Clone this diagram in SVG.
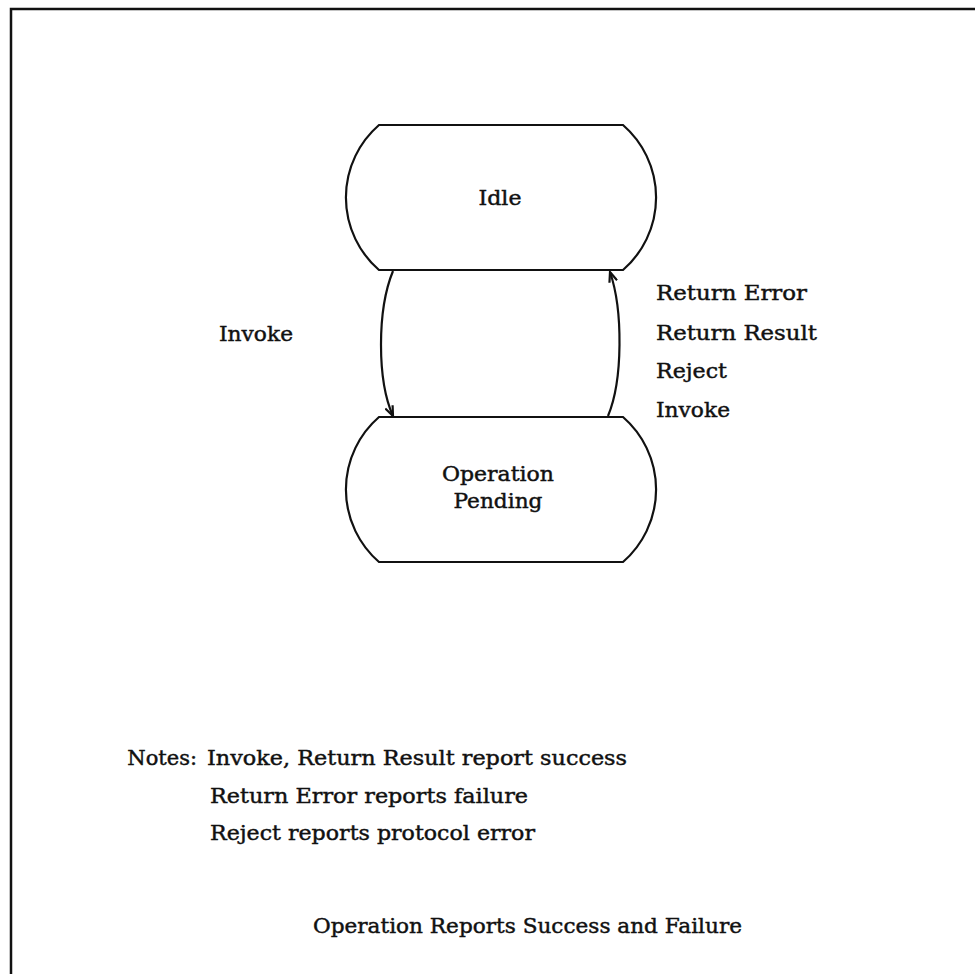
<svg xmlns="http://www.w3.org/2000/svg" width="975" height="974" viewBox="0 0 975 974">
<style>
  .node { fill: #fff; stroke: #111; stroke-width: 2.2; }
  .lbl { font-family: "DejaVu Serif", "Liberation Serif", serif; font-size: 21px; fill: #111; stroke: #111; stroke-width: 0.45; }
  .mid { text-anchor: middle; }
  .edge { fill: none; stroke: #111; stroke-width: 2.2; }
</style>
<defs>
  <marker id="arr" viewBox="0 0 12 10" refX="11" refY="5" markerWidth="12" markerHeight="10" markerUnits="userSpaceOnUse" orient="auto">
    <path d="M1,1 L11,5 L1,9" fill="none" stroke="#111" stroke-width="2.2"/>
  </marker>
</defs>
<rect width="975" height="974" fill="#fff"/>
<path d="M11,974 V9 H975" fill="none" stroke="#111" stroke-width="2.5"/>

<g id="idle">
  <path class="node" d="M379,125 H623 A96,96 0 0 1 623,270 H379 A96,96 0 0 1 379,125 Z"/>
  <text class="lbl mid" x="500" y="205" textLength="43" lengthAdjust="spacingAndGlyphs">Idle</text>
</g>

<g id="pending">
  <path class="node" d="M379,417 H623 A96,96 0 0 1 623,562 H379 A96,96 0 0 1 379,417 Z"/>
  <text class="lbl mid" x="498" y="481" textLength="112" lengthAdjust="spacingAndGlyphs">Operation</text>
  <text class="lbl mid" x="498" y="508" textLength="89" lengthAdjust="spacingAndGlyphs">Pending</text>
</g>

<g id="connectors">
  <path class="edge" d="M393,271 C377,310 377,380 393,416" marker-end="url(#arr)"/>
  <path class="edge" d="M608,416 C623,380 623,310 610,272" marker-end="url(#arr)"/>
  <text class="lbl" x="219" y="341" textLength="74" lengthAdjust="spacingAndGlyphs">Invoke</text>
  <text class="lbl" x="656" y="300" textLength="151" lengthAdjust="spacingAndGlyphs">Return Error</text>
  <text class="lbl" x="656" y="340" textLength="161" lengthAdjust="spacingAndGlyphs">Return Result</text>
  <text class="lbl" x="656" y="378" textLength="71" lengthAdjust="spacingAndGlyphs">Reject</text>
  <text class="lbl" x="656" y="417" textLength="74" lengthAdjust="spacingAndGlyphs">Invoke</text>
</g>

<g id="notes">
  <text class="lbl" x="197" y="765" text-anchor="end">Notes:</text>
  <text class="lbl" x="207" y="765" textLength="420" lengthAdjust="spacingAndGlyphs">Invoke, Return Result report success</text>
  <text class="lbl" x="210" y="803" textLength="318" lengthAdjust="spacingAndGlyphs">Return Error reports failure</text>
  <text class="lbl" x="210" y="840" textLength="325" lengthAdjust="spacingAndGlyphs">Reject reports protocol error</text>
</g>

<g id="caption">
  <text class="lbl" x="313" y="933" textLength="429" lengthAdjust="spacingAndGlyphs">Operation Reports Success and Failure</text>
</g>
</svg>
